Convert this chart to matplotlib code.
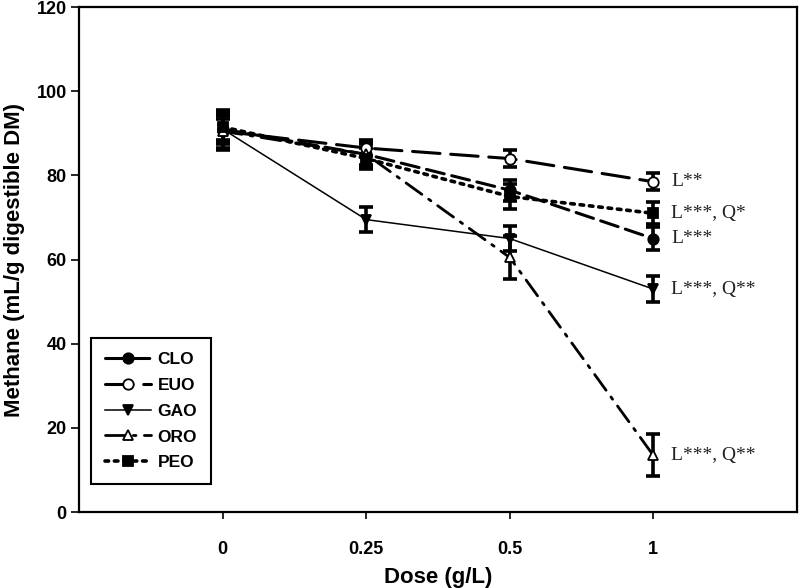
import matplotlib
matplotlib.use('Agg')
import matplotlib.pyplot as plt
import numpy as np

# doses (categorical x axis)
doses = ['0', '0.25', '0.5', '1']

# methane means and error bars
clo = [91, 85, 76.5, 65]
clo_err = [3, 2.5, 2.5, 2.7]
euo = [90.5, 86.5, 84, 78.5]
euo_err = [3, 2, 2, 2]
gao = [91, 69.5, 65, 53]
gao_err = [4.5, 3, 3, 3]
oro = [90.5, 85, 60.5, 13.5]
oro_err = [4.5, 3, 5, 5]
peo = [91.5, 84, 75, 71]
peo_err = [3, 2.5, 3, 2.6]

names = ['CLO', 'EUO', 'GAO', 'ORO', 'PEO']
signif = ['L***', 'L**', 'L***, Q**', 'L***, Q**', 'L***, Q*']

plt.rcParams['font.family'] = 'Liberation Sans'

fig = plt.figure(figsize=(8, 5.88), dpi=100)
ax = fig.add_axes([0.099, 0.129, 0.897, 0.859])

x = np.arange(len(doses))
series = [clo, euo, gao, oro, peo]
errors = [clo_err, euo_err, gao_err, oro_err, peo_err]
styles = [
    dict(ls=(0, (6, 2.5)), lw=2.2, marker='o', mfc='black'),
    dict(ls=(0, (9, 3.5)), lw=2.2, marker='o', mfc='white'),
    dict(ls='-', lw=1.1, marker='v', mfc='black'),
    dict(ls=(0, (7, 3, 1, 3)), lw=2.0, marker='^', mfc='white'),
    dict(ls=(0, (1, 1.6)), lw=2.6, marker='s', mfc='black'),
]

for vals, errs, name, st in zip(series, errors, names, styles):
    ax.errorbar(x, vals, yerr=errs, fmt='none', ecolor='black',
                elinewidth=2.6, capsize=5, capthick=2.6, zorder=2)
    ax.plot(x, vals, color='black', ls=st['ls'], lw=st['lw'],
            marker=st['marker'], mfc=st['mfc'], mec='black', mew=1.3,
            ms=7.5, label=name, zorder=3, dash_capstyle='round')

# significance labels next to the last dose
for vals, txt in zip(series, signif):
    ax.annotate(txt, (x[-1], vals[-1]), xytext=(13, 0), textcoords='offset points',
                va='center', ha='left', fontsize=14, color='#222222',
                family='Liberation Serif')

ax.set_xlim(-1, 4)
ax.set_ylim(0, 120)
ax.set_xticks(x)
ax.set_xticklabels(doses)
ax.set_yticks(np.arange(0, 121, 20))
for lab in ax.get_xticklabels() + ax.get_yticklabels():
    lab.set_fontweight('bold')
    lab.set_fontsize(13)
ax.tick_params(axis='x', direction='out', length=5, width=1.2, pad=16)
ax.tick_params(axis='y', direction='out', length=6, width=1.2, pad=3)
for sp in ax.spines.values():
    sp.set_linewidth(1.6)

ax.set_xlabel('Dose (g/L)', fontsize=16, fontweight='bold', labelpad=6)
ax.set_ylabel('Methane (mL/g digestible DM)', fontsize=16, fontweight='bold', labelpad=8)

leg = ax.legend(loc='lower left', bbox_to_anchor=(0.016, 0.055), fancybox=False,
                edgecolor='black', framealpha=1, handlelength=2.7, handletextpad=0.35,
                labelspacing=0.62, borderpad=0.8, borderaxespad=0,
                prop={'weight': 'bold', 'size': 12.5})
leg.get_frame().set_linewidth(1.5)

fig.savefig('out.png', dpi=100)
